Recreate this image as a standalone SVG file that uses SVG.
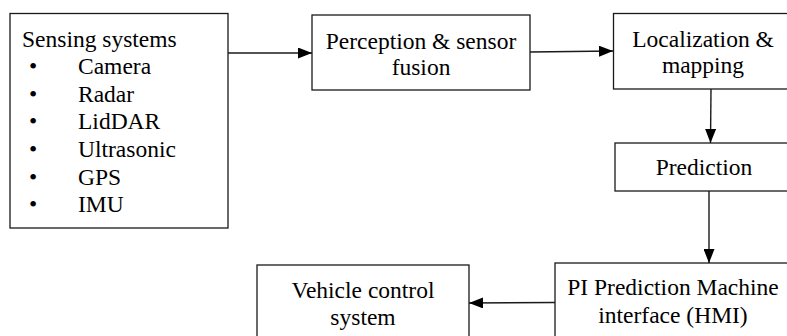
<svg xmlns="http://www.w3.org/2000/svg" width="787" height="336" viewBox="0 0 787 336">
  <style>
    .box { fill: #ffffff; stroke: #1a1a1a; stroke-width: 1.3; }
    text { font-family: "Liberation Serif", Tinos, "Times New Roman", "DejaVu Serif", serif; font-size: 23.5px; fill: #000000; }
    .mid { text-anchor: middle; }
    .wire { stroke: #1a1a1a; stroke-width: 1.4; fill: none; marker-end: url(#head); }
  </style>
  <defs>
    <marker id="head" viewBox="0 0 14 11" refX="14" refY="5.5" markerWidth="14" markerHeight="11" markerUnits="userSpaceOnUse" orient="auto">
      <path d="M0,0 L14,5.5 L0,11 Z" fill="#000000"/>
    </marker>
  </defs>
  <rect width="787" height="336" fill="#ffffff"/>

  <g id="sensing">
    <rect class="box" x="10" y="13.5" width="218" height="214.5"/>
    <text x="22" y="46.5">Sensing systems</text>
    <text x="29" y="74">•</text><text x="78" y="74">Camera</text>
    <text x="29" y="101.5">•</text><text x="78" y="101.5">Radar</text>
    <text x="29" y="129">•</text><text x="78" y="129">LidDAR</text>
    <text x="29" y="156.5">•</text><text x="78" y="156.5">Ultrasonic</text>
    <text x="29" y="184.5">•</text><text x="78" y="184.5">GPS</text>
    <text x="29" y="212">•</text><text x="78" y="212">IMU</text>
  </g>

  <g id="perception">
    <rect class="box" x="312" y="15" width="218" height="75"/>
    <text class="mid" x="421" y="49">Perception &amp; sensor</text>
    <text class="mid" x="421" y="75">fusion</text>
  </g>

  <g id="localization">
    <rect class="box" x="613.5" y="13.5" width="180" height="75.5"/>
    <text class="mid" x="703" y="47">Localization &amp;</text>
    <text class="mid" x="703" y="73">mapping</text>
  </g>

  <g id="prediction">
    <rect class="box" x="615" y="143" width="180" height="48"/>
    <text class="mid" x="704" y="175">Prediction</text>
  </g>

  <g id="hmi">
    <rect class="box" x="555" y="263" width="240" height="80"/>
    <text class="mid" x="673" y="295">PI Prediction Machine</text>
    <text class="mid" x="673" y="323">interface (HMI)</text>
  </g>

  <g id="vehicle-control">
    <rect class="box" x="257" y="265" width="212" height="80"/>
    <text class="mid" x="363" y="298">Vehicle control</text>
    <text class="mid" x="363" y="325">system</text>
  </g>

  <g id="connectors">
    <path class="wire" d="M228,53 L312,53"/>
    <path class="wire" d="M530,52 L613,51"/>
    <path class="wire" d="M711,89 L710.5,143"/>
    <path class="wire" d="M709,191 L709,263"/>
    <path class="wire" d="M555,302.5 L469,303"/>
  </g>
</svg>
